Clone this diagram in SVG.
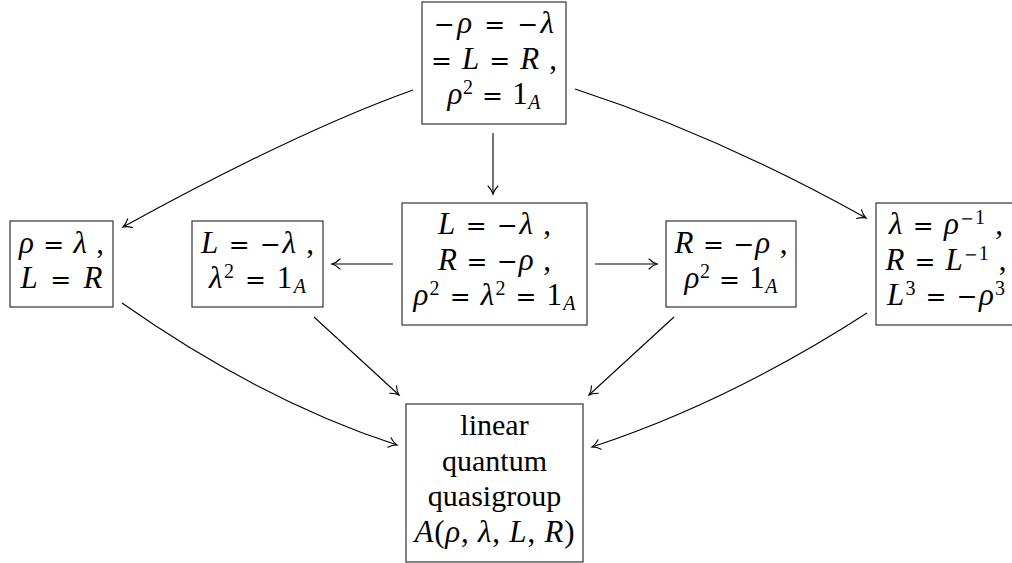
<svg xmlns="http://www.w3.org/2000/svg" width="1012" height="563" viewBox="0 0 1012 563">
<style>
  .box { fill: #fff; stroke: #333; stroke-width: 1.2; }
  text { font-family: "Liberation Serif", "Times New Roman", serif; font-size: 31px; fill: #000; text-anchor: middle; }
  .i { font-style: italic; }
  .o { font-family: "DejaVu Serif", "Liberation Serif", serif; font-size: 25px; }
  .s { font-size: 20px; }
  .so { font-family: "DejaVu Serif", "Liberation Serif", serif; font-size: 16px; }
  .w { font-size: 30px; }
  .edge { fill: none; stroke: #000; stroke-width: 1.1; marker-end: url(#to); }
</style>
<defs>
  <marker id="to" markerUnits="userSpaceOnUse" markerWidth="14" markerHeight="14" viewBox="-10 -7 14 14" refX="0" refY="0" orient="auto" overflow="visible">
    <path d="M -8 -5 C -5 -2 -2 -0.6 0 0 C -2 0.6 -5 2 -8 5" fill="none" stroke="#000" stroke-width="1.1" stroke-linecap="round"/>
  </marker>
</defs>

<g id="connectors">
  <path class="edge" d="M 413 90 Q 298 131 123 227"/>
  <path class="edge" d="M 575 89 Q 719 136 866 218"/>
  <path class="edge" d="M 493 133 L 493 194"/>
  <path class="edge" d="M 393 264 L 332 264"/>
  <path class="edge" d="M 595 264 L 657 264"/>
  <path class="edge" d="M 122 303 Q 260 400 397 445"/>
  <path class="edge" d="M 314 317 L 399 395"/>
  <path class="edge" d="M 674 317 L 589 395"/>
  <path class="edge" d="M 867 313 Q 729 402 592 447"/>
</g>

<g id="node-top">
  <rect class="box" x="422" y="2" width="144" height="122"/>
  <text x="494" y="33" textLength="120" lengthAdjust="spacing"><tspan class="o">−</tspan><tspan class="i">ρ</tspan> <tspan class="o">=</tspan> <tspan class="o">−</tspan><tspan class="i">λ</tspan></text>
  <text x="494" y="68.5" textLength="126" lengthAdjust="spacing"><tspan class="o">=</tspan> <tspan class="i">L</tspan> <tspan class="o">=</tspan> <tspan class="i">R</tspan> ,</text>
  <text x="494" y="104" textLength="93" lengthAdjust="spacing"><tspan class="i">ρ</tspan><tspan class="s" dy="-10">2</tspan><tspan dy="10"> </tspan><tspan class="o">=</tspan> 1<tspan class="s i" dy="5">A</tspan></text>
</g>

<g id="node-left">
  <rect class="box" x="10" y="221" width="103" height="86"/>
  <text x="61.5" y="252.5" textLength="85" lengthAdjust="spacing"><tspan class="i">ρ</tspan> <tspan class="o">=</tspan> <tspan class="i">λ</tspan> ,</text>
  <text x="61.5" y="288" textLength="82" lengthAdjust="spacing"><tspan class="i">L</tspan> <tspan class="o">=</tspan> <tspan class="i">R</tspan></text>
</g>

<g id="node-left-mid">
  <rect class="box" x="192" y="221" width="131" height="86"/>
  <text x="257.5" y="252.5" textLength="113" lengthAdjust="spacing"><tspan class="i">L</tspan> <tspan class="o">=</tspan> <tspan class="o">−</tspan><tspan class="i">λ</tspan> ,</text>
  <text x="257.5" y="288" textLength="97" lengthAdjust="spacing"><tspan class="i">λ</tspan><tspan class="s" dy="-10">2</tspan><tspan dy="10"> </tspan><tspan class="o">=</tspan> 1<tspan class="s i" dy="5">A</tspan></text>
</g>

<g id="node-center">
  <rect class="box" x="402" y="203" width="185" height="122"/>
  <text x="494.5" y="234" textLength="113" lengthAdjust="spacing"><tspan class="i">L</tspan> <tspan class="o">=</tspan> <tspan class="o">−</tspan><tspan class="i">λ</tspan> ,</text>
  <text x="494.5" y="269.5" textLength="113" lengthAdjust="spacing"><tspan class="i">R</tspan> <tspan class="o">=</tspan> <tspan class="o">−</tspan><tspan class="i">ρ</tspan> ,</text>
  <text x="494.5" y="305" textLength="162" lengthAdjust="spacing"><tspan class="i">ρ</tspan><tspan class="s" dy="-10">2</tspan><tspan dy="10"> </tspan><tspan class="o">=</tspan> <tspan class="i">λ</tspan><tspan class="s" dy="-10">2</tspan><tspan dy="10"> </tspan><tspan class="o">=</tspan> 1<tspan class="s i" dy="5">A</tspan></text>
</g>

<g id="node-right-mid">
  <rect class="box" x="666" y="221" width="130" height="86"/>
  <text x="731" y="252.5" textLength="113" lengthAdjust="spacing"><tspan class="i">R</tspan> <tspan class="o">=</tspan> <tspan class="o">−</tspan><tspan class="i">ρ</tspan> ,</text>
  <text x="731" y="288" textLength="93" lengthAdjust="spacing"><tspan class="i">ρ</tspan><tspan class="s" dy="-10">2</tspan><tspan dy="10"> </tspan><tspan class="o">=</tspan> 1<tspan class="s i" dy="5">A</tspan></text>
</g>

<g id="node-right">
  <rect class="box" x="876" y="203" width="140" height="122"/>
  <text x="946" y="234" textLength="114" lengthAdjust="spacing"><tspan class="i">λ</tspan> <tspan class="o">=</tspan> <tspan class="i">ρ</tspan><tspan class="so" dy="-10">−</tspan><tspan class="s">1</tspan><tspan dy="10"> ,</tspan></text>
  <text x="946" y="269.5" textLength="121" lengthAdjust="spacing"><tspan class="i">R</tspan> <tspan class="o">=</tspan> <tspan class="i">L</tspan><tspan class="so" dy="-10">−</tspan><tspan class="s">1</tspan><tspan dy="10"> ,</tspan></text>
  <text x="946" y="305" textLength="118" lengthAdjust="spacing"><tspan class="i">L</tspan><tspan class="s" dy="-10">3</tspan><tspan dy="10"> </tspan><tspan class="o">=</tspan> <tspan class="o">−</tspan><tspan class="i">ρ</tspan><tspan class="s" dy="-10">3</tspan></text>
</g>

<g id="node-bottom">
  <rect class="box" x="406" y="404" width="177" height="158"/>
  <text class="w" x="494.5" y="435">linear</text>
  <text class="w" x="494.5" y="470.5">quantum</text>
  <text class="w" x="494.5" y="506">quasigroup</text>
  <text x="494.5" y="541.5" textLength="160" lengthAdjust="spacing"><tspan class="i">A</tspan>(<tspan class="i">ρ</tspan>, <tspan class="i">λ</tspan>, <tspan class="i">L</tspan>, <tspan class="i">R</tspan>)</text>
</g>
</svg>
